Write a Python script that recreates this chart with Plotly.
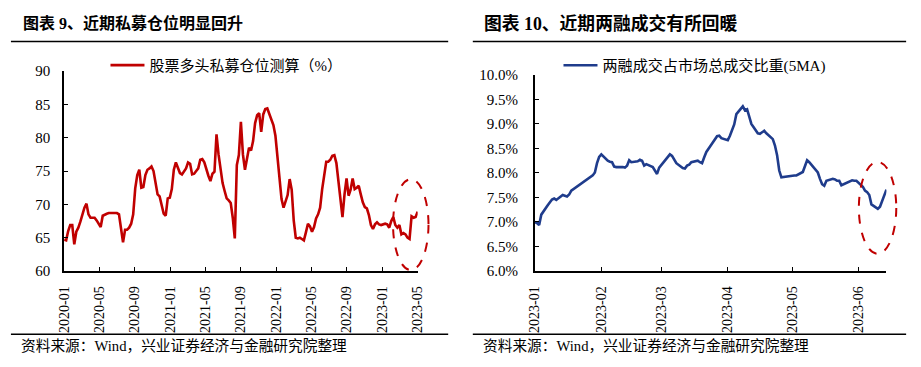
import pandas as pd
import plotly.graph_objects as go

# ---------------- data ----------------
# Left chart: weekly estimate of long-only private fund position (%), from 2020-01-03
left_start = "2020-01-03"
left_values = [
    64.7, 64.6, 66.0, 66.9, 66.9, 64.0, 65.9, 66.5, 67.4, 68.6,
    69.5, 70.1, 68.5, 68.0, 68.0, 68.0, 67.6, 67.1, 66.6, 68.3,
    68.5, 68.6, 68.7, 68.7, 68.7, 68.7, 68.7, 68.5, 66.3, 64.3,
    66.2, 66.2, 66.5, 67.1, 68.5, 72.4, 74.4, 75.2, 72.5, 72.6,
    74.4, 75.2, 75.4, 75.7, 75.0, 73.1, 71.5, 71.2, 69.8, 68.6,
    68.3, 70.9, 71.0, 72.3, 75.2, 76.3, 75.5, 74.7, 74.5, 74.9,
    75.4, 76.3, 76.1, 74.5, 74.6, 75.0, 75.4, 76.7, 76.8, 76.3,
    75.1, 74.3, 73.5, 74.6, 74.9, 80.5, 77.5, 75.2, 73.2, 72.0,
    70.9, 70.6, 70.2, 68.0, 64.9, 75.9, 77.4, 82.4, 77.5, 75.2,
    77.2, 78.5, 78.1, 79.5, 82.2, 83.4, 83.7, 80.9, 83.5, 84.3,
    84.4, 83.6, 82.8, 81.9, 80.3, 77.3, 74.0, 70.8, 69.5, 70.4,
    71.4, 73.8, 72.2, 67.6, 65.0, 64.9, 65.0, 64.8, 64.6, 65.8,
    67.1, 66.7, 65.9, 66.6, 67.9, 68.5, 69.5, 72.3, 74.8, 76.4,
    76.4, 76.7, 77.3, 77.4, 76.2, 73.4, 70.1, 68.1, 71.5, 73.9,
    71.3, 72.2, 73.9, 72.3, 72.5, 72.8, 71.5, 70.3, 69.6, 69.4,
    68.4, 66.9, 66.3, 67.0, 67.3, 67.0, 66.9, 67.0, 67.1, 67.0,
    66.5, 67.5, 68.1, 66.9, 66.5, 66.9, 65.5, 65.7, 65.5, 65.0,
    64.8, 68.2, 68.0, 68.1, 68.9,
]
left_name = "股票多头私募仓位测算（%）"

# Right chart: margin-trading share of total turnover (5MA, %), trading days 2023
right_start = "2023-01-03"
right_end = "2023-06-16"
right_holidays = ["2023-01-23", "2023-01-24", "2023-01-25", "2023-01-26", "2023-01-27",
                  "2023-04-05", "2023-05-01", "2023-05-02", "2023-05-03"]
right_values = [
    # Jan
    7.00, 6.98, 6.94, 7.15, 7.34, 7.40, 7.46, 7.48, 7.45, 7.55,
    7.54, 7.52, 7.56, 7.64, 7.95, 8.01,
    # Feb
    8.20, 8.33, 8.38, 8.25, 8.23, 8.22, 8.13, 8.12, 8.12, 8.11,
    8.15, 8.26, 8.22, 8.24, 8.27, 8.25, 8.15, 8.18, 8.12, 8.06,
    # Mar
    7.98, 8.11, 8.16, 8.33, 8.38, 8.35, 8.28, 8.20, 8.10, 8.09,
    8.15, 8.17, 8.22, 8.25, 8.22, 8.20, 8.32, 8.43, 8.62, 8.70,
    8.75, 8.76, 8.71,
    # Apr
    8.67, 8.76, 8.99, 9.20, 9.36, 9.28, 9.30, 9.16, 9.00, 8.81,
    8.80, 8.83, 8.86, 8.81, 8.69, 8.56, 8.36, 8.05, 7.91,
    # May
    7.95, 7.95, 8.02, 8.15, 8.26, 8.22, 8.17, 8.01, 7.88, 7.77,
    7.74, 7.84, 7.88, 7.87, 7.84, 7.84, 7.75, 7.81, 7.83, 7.85,
    # Jun
    7.84, 7.84, 7.72, 7.64, 7.61, 7.55, 7.36, 7.27, 7.31, 7.42,
    7.51, 7.66,
]
right_name = "两融成交占市场总成交比重(5MA)"

left_title = "图表 9、近期私募仓位明显回升"
right_title = "图表 10、近期两融成交有所回暖"
source_text = "资料来源：Wind，兴业证券经济与金融研究院整理"

# ---------------- build ----------------
left_dates = pd.date_range(left_start, periods=len(left_values), freq="7D")
right_dates = pd.bdate_range(right_start, right_end, freq="C", holidays=right_holidays)
assert len(right_dates) == len(right_values), (len(right_dates), len(right_values))

W, H = 921, 367
def px(x):
    return x / W
def py(y):
    return 1 - y / H

RED = "#C00000"
BLUE = "#1F3C8C"
SERIF = "Liberation Serif, Times New Roman, Noto Sans CJK SC"
CJK = "Liberation Serif, Noto Sans CJK SC"

fig = go.Figure()
fig.add_trace(go.Scatter(x=left_dates, y=left_values, mode="lines", name=left_name,
                         line=dict(color=RED, width=2.6), xaxis="x", yaxis="y",
                         legend="legend", hoverinfo="skip"))
fig.add_trace(go.Scatter(x=right_dates, y=right_values, mode="lines", name=right_name,
                         line=dict(color=BLUE, width=2.6), xaxis="x2", yaxis="y2",
                         legend="legend2", hoverinfo="skip"))

axis_common = dict(showgrid=False, zeroline=False, showline=True, linecolor="black",
                   linewidth=1.5, ticks="inside", ticklen=4, tickwidth=1,
                   tickcolor="black")
xfont = dict(family=SERIF, size=14, color="black")
yfont = dict(family=SERIF, size=15, color="black")

fig.update_layout(
    width=W, height=H, margin=dict(l=0, r=0, t=0, b=0),
    paper_bgcolor="white", plot_bgcolor="white",
    font=dict(family=CJK, color="black"),
    xaxis=dict(domain=[px(58), px(417)], anchor="y", type="date",
               range=[left_dates[0], left_dates[-1]], tick0=left_start, dtick="M4",
               tickformat="%Y-%m", tickangle=-90, ticklabelstandoff=8,
               tickfont=xfont, **axis_common),
    yaxis=dict(domain=[py(275), py(66)], anchor="x", range=[60, 90], dtick=5,
               ticklabelstandoff=9, tickfont=yfont, **axis_common),
    xaxis2=dict(domain=[px(536), px(893)], anchor="y2", type="date",
                range=[right_dates[0], right_dates[-1]], tick0=right_start, dtick="M1",
                tickformat="%Y-%m", tickangle=-90, ticklabelstandoff=8,
                tickfont=xfont, **axis_common),
    yaxis2=dict(domain=[py(275), py(70)], anchor="x2", range=[6, 10], dtick=0.5,
                tickformat=".1f", ticksuffix="%", ticklabelstandoff=12,
                tickfont=yfont, **axis_common),
    legend=dict(x=px(100), y=py(60), xanchor="left", yanchor="middle",
                bgcolor="rgba(0,0,0,0)", font=dict(family=CJK, size=15),
                itemwidth=34, tracegroupgap=0),
    legend2=dict(x=px(560), y=py(60), xanchor="left", yanchor="middle",
                 bgcolor="rgba(0,0,0,0)", font=dict(family=CJK, size=15.1),
                 itemwidth=34, tracegroupgap=0),
    showlegend=True,
)

shapes = []
for x0, x1 in [(4, 448), (473, 913)]:
    shapes.append(dict(type="line", xref="paper", yref="paper", x0=px(x0), x1=px(x1),
                       y0=py(35), y1=py(35), line=dict(color="black", width=1.5)))
    shapes.append(dict(type="line", xref="paper", yref="paper", x0=px(x0), x1=px(x1),
                       y0=py(341), y1=py(341), line=dict(color="black", width=1.5)))
shapes.append(dict(type="circle", xref="paper", yref="paper", x0=px(392), x1=px(428),
                   y0=py(274), y1=py(179), line=dict(color=RED, width=2, dash="dash")))
shapes.append(dict(type="circle", xref="paper", yref="paper", x0=px(865), x1=px(903),
                   y0=py(257), y1=py(161), line=dict(color=RED, width=2, dash="dash")))
fig.update_layout(shapes=shapes)

annotations = [
    dict(text=left_title, x=px(14), y=py(16), xref="paper", yref="paper",
         xanchor="left", yanchor="middle", showarrow=False,
         font=dict(family=CJK, size=16, color="black", weight="bold")),
    dict(text=right_title, x=px(482), y=py(16), xref="paper", yref="paper",
         xanchor="left", yanchor="middle", showarrow=False,
         font=dict(family=CJK, size=17.8, color="black", weight="bold")),
    dict(text=source_text, x=px(12), y=py(353), xref="paper", yref="paper",
         xanchor="left", yanchor="middle", showarrow=False,
         font=dict(family=CJK, size=14.7, color="black")),
    dict(text=source_text, x=px(481), y=py(353), xref="paper", yref="paper",
         xanchor="left", yanchor="middle", showarrow=False,
         font=dict(family=CJK, size=14.7, color="black")),
]
fig.update_layout(annotations=annotations)

fig.write_html("out.html", config={"displayModeBar": False},
               post_script="document.body.style.margin='0px';")
